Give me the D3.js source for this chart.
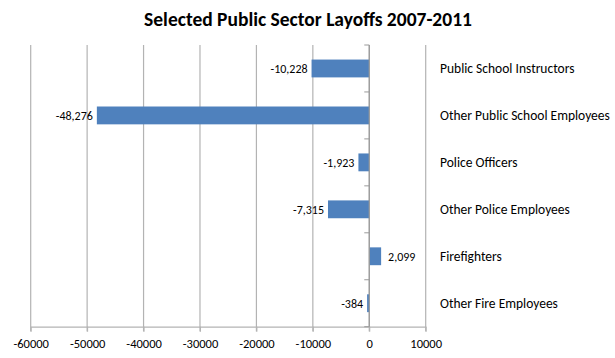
<!DOCTYPE html>
<html><head><meta charset="utf-8">
<script src="https://cdn.jsdelivr.net/npm/d3@7"></script>
<style>body{margin:0;background:#fff}svg{display:block;font-family:Carlito,Lato,"Open Sans",sans-serif}</style>
</head><body><svg id="c" width="615" height="358"></svg>
<script>
const categories = ["Public School Instructors","Other Public School Employees","Police Officers","Other Police Employees","Firefighters","Other Fire Employees"];
const values = [-10228,-48276,-1923,-7315,2099,-384];
const xTicks = [-60000,-50000,-40000,-30000,-20000,-10000,0,10000];
const title = "Selected Public Sector Layoffs 2007-2011";

const svg = d3.select("#c");
const x = d3.scaleLinear().domain([-60000,10000]).range([30.7,425.7]);
const y = d3.scaleBand().domain(categories).range([45,326.7]).paddingInner(0.62).paddingOuter(0.31);
const yb = d3.scaleBand().domain(categories).range([45,326.7]);

svg.append("text").attr("x",308).attr("y",26).attr("text-anchor","middle")
  .attr("font-size",19.5).attr("font-weight","bold").attr("fill","#000").text(title);

// gridlines
svg.append("g").selectAll("line").data(xTicks).join("line")
  .attr("x1",d=>x(d)).attr("x2",d=>x(d)).attr("y1",45).attr("y2",331.5)
  .attr("stroke","#b3b3b3").attr("stroke-width",1.2);

// x axis
const xa = svg.append("g").attr("transform","translate(0,326.7)")
  .call(d3.axisBottom(x).tickValues(xTicks).tickFormat(d=>String(d)).tickSize(5).tickSizeOuter(0));
xa.select(".domain").attr("stroke","#b3b3b3").attr("stroke-width",1.2);
xa.selectAll(".tick line").attr("stroke","#b3b3b3");
xa.selectAll("text").attr("font-size",12.5).attr("fill","#000").attr("dy","1.05em").attr("font-family","Carlito,Lato,sans-serif");

// bars
svg.append("g").selectAll("rect").data(values).join("rect")
  .attr("x",d=>x(Math.min(0,d))).attr("width",d=>Math.abs(x(d)-x(0)))
  .attr("y",(d,i)=>y(categories[i])).attr("height",y.bandwidth())
  .attr("fill","#4f81bd");

// category axis at zero
const ya = svg.append("g").attr("transform",`translate(${x(0)},0)`);
ya.append("line").attr("x1",0).attr("x2",0).attr("y1",45).attr("y2",326.7).attr("stroke","#9a9a9a").attr("stroke-width",1.2);
ya.selectAll("line.t").data(d3.range(categories.length+1)).join("line").attr("class","t")
  .attr("x1",-5).attr("x2",0).attr("y1",i=>45+i*yb.step()).attr("y2",i=>45+i*yb.step())
  .attr("stroke","#9a9a9a");

// category labels
svg.append("g").selectAll("text").data(categories).join("text")
  .attr("x",440).attr("y",d=>yb(d)+yb.bandwidth()/2).attr("dy","0.35em")
  .attr("font-size",13.5).attr("fill","#000").text(d=>d);

// data labels
const fmt = d3.format(",");
svg.append("g").selectAll("text").data(values).join("text")
  .attr("x",d=>d<0? x(d)-4 : x(d)+7)
  .attr("text-anchor",d=>d<0?"end":"start")
  .attr("y",(d,i)=>yb(categories[i])+yb.bandwidth()/2).attr("dy","0.4em")
  .attr("font-size",12).attr("fill","#000")
  .text(d=>d<0? "-"+fmt(-d) : fmt(d));
</script></body></html>
